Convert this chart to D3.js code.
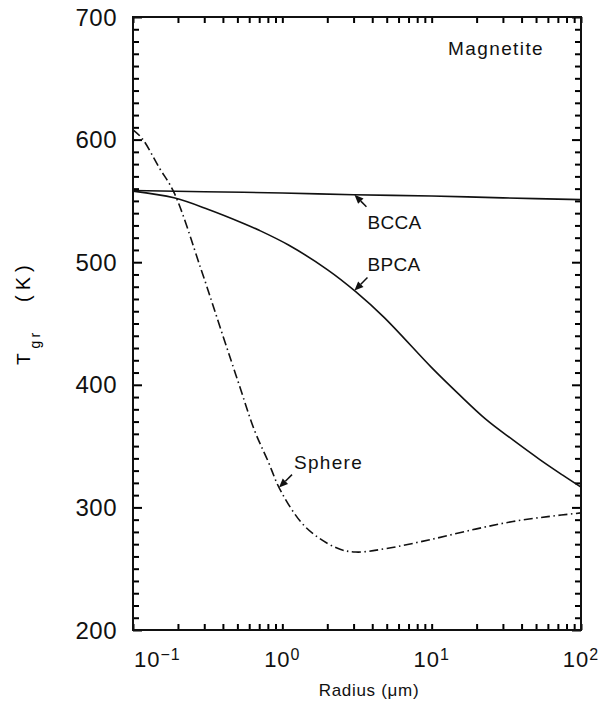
<!DOCTYPE html>
<html>
<head>
<meta charset="utf-8">
<script src="https://cdn.jsdelivr.net/npm/d3@7"></script>
<style>
  body { margin: 0; background: #fff; }
  svg text { font-family: "Liberation Sans", Arial, sans-serif; fill: #111; }
</style>
</head>
<body>
<svg id="chart" width="610" height="702"></svg>
<script>
// values: [radius (um), T_gr (K)]
var bccaData = [[0.1, 558.5], [0.3, 557.5], [1, 556.5], [3, 555], [10, 554], [30, 552.5], [100, 551]];
var bpcaData = [[0.1, 558], [0.188, 552.5], [0.32, 543], [0.54, 532], [0.7, 526], [1.1, 514], [2, 494],
                [3.1, 476], [4.8, 455], [10, 414], [15, 393], [23, 372], [35, 355], [53, 339],
                [75, 326.5], [100, 316.5]];
var sphereData = [[0.1, 608], [0.115, 601], [0.15, 577], [0.188, 557], [0.286, 494], [0.4, 440], [0.514, 400],
                  [0.65, 363], [0.8, 338], [0.98, 313], [1.43, 284], [2.3, 267], [3.1, 263.6], [5, 266.5],
                  [10, 274], [20, 282.5], [35, 288.5], [60, 292.5], [100, 295.5]];

var xDecades = [0.1, 1, 10, 100];
var xExponents = ["\u22121", "0", "1", "2"];
var yLabels = [200, 300, 400, 500, 600, 700];

// annotation: label, which curve, radius where the arrow touches
var notes = [
    { label: "BCCA", series: "bcca", r: 3.04, tail: [12, 12], text: [13, 34] },
    { label: "BPCA", series: "bpca", r: 3.04, tail: [13, -13], text: [13, -20] },
    { label: "Sphere", series: "sphere", r: 0.95, tail: [13, -13], text: [15, -19] }
];

var mLeft = 133, mRight = 581, mTop = 17, mBottom = 630;
var svg = d3.select("#chart");
var g = svg.append("g");

var x = d3.scaleLog().domain([0.1, 100]).range([mLeft, mRight]);
var y = d3.scaleLinear().domain([200, 700]).range([mBottom, mTop]);

// ticks on all four sides, pointing inward
var yTicks = d3.range(200, 701, 10);
function ySize(d) { return d % 100 == 0 ? 9 : 6; }

g.append("g").attr("transform", "translate(0," + mBottom + ")")
    .call(d3.axisBottom(x).tickValues(x.ticks()).tickSize(-6).tickFormat(""));
g.append("g").attr("transform", "translate(0," + mTop + ")")
    .call(d3.axisTop(x).tickValues(x.ticks()).tickSize(-6).tickFormat(""));

var yl = g.append("g").attr("transform", "translate(" + mLeft + ",0)")
    .call(d3.axisLeft(y).tickValues(yTicks).tickFormat(""));
yl.selectAll(".tick line").attr("x2", function (d) { return ySize(d); });
var yr = g.append("g").attr("transform", "translate(" + mRight + ",0)")
    .call(d3.axisRight(y).tickValues(yTicks).tickFormat(""));
yr.selectAll(".tick line").attr("x2", function (d) { return -ySize(d); });

g.selectAll(".domain").remove();
g.selectAll(".tick line").attr("stroke", "#000").attr("stroke-width", 2);

// frame
g.append("rect")
    .attr("x", mLeft).attr("y", mTop)
    .attr("width", mRight - mLeft).attr("height", mBottom - mTop)
    .attr("fill", "none").attr("stroke", "#111").attr("stroke-width", 2);

// y tick labels
g.selectAll(".ylab")
    .data(yLabels)
    .enter().append("text")
    .attr("x", mLeft - 16)
    .attr("y", function (d) { return y(d); })
    .attr("dy", "0.36em")
    .attr("text-anchor", "end")
    .style("font-size", "24px")
    .style("letter-spacing", "0.5px")
    .text(function (d) { return d; });

// x tick labels, 10 with exponent
var xl = g.selectAll(".xlab")
    .data(xDecades)
    .enter().append("text")
    .attr("x", function (d, i) { return i == 0 ? x(d) + 1 : x(d); })
    .attr("y", 667)
    .attr("text-anchor", function (d, i) { return i == 0 ? "start" : "middle"; })
    .style("font-size", "22px")
    .style("letter-spacing", "1px");
xl.append("tspan").text("10");
xl.append("tspan")
    .attr("dy", "-0.45em")
    .style("font-size", "16px")
    .text(function (d, i) { return xExponents[i]; });

// axis titles
g.append("text")
    .attr("x", 369).attr("y", 696)
    .attr("text-anchor", "middle")
    .style("font-size", "17px")
    .style("letter-spacing", "0.7px")
    .text("Radius (\u03bcm)");

var yt = g.append("text")
    .attr("transform", "translate(30,365) rotate(-90)")
    .attr("text-anchor", "start")
    .style("font-size", "19px")
    .style("fill", "#000");
yt.append("tspan").text("T");
yt.append("tspan").attr("dx", 5).attr("dy", 10)
    .style("font-size", "14px").style("letter-spacing", "3px").text("gr");
yt.append("tspan").attr("dx", 28).attr("dy", -10)
    .style("font-size", "20px").style("letter-spacing", "5px").text("(K)");

g.append("text")
    .attr("x", 448).attr("y", 55)
    .style("font-size", "19px")
    .style("letter-spacing", "1.4px")
    .text("Magnetite");

// curves
var line = d3.line()
    .x(function (d) { return x(d[0]); })
    .y(function (d) { return y(d[1]); })
    .curve(d3.curveCatmullRom.alpha(0.5));

var paths = {};
paths.bcca = g.append("path").datum(bccaData)
    .attr("d", line).attr("fill", "none").attr("stroke", "#111").attr("stroke-width", 1.6);
paths.bpca = g.append("path").datum(bpcaData)
    .attr("d", line).attr("fill", "none").attr("stroke", "#111").attr("stroke-width", 1.6);
paths.sphere = g.append("path").datum(sphereData)
    .attr("d", line).attr("fill", "none").attr("stroke", "#111").attr("stroke-width", 1.6)
    .attr("stroke-dasharray", "9,3.5,1.5,3.5");

// find the point on a path at a given x
function pointAtX(node, px) {
    var lo = 0, hi = node.getTotalLength(), p;
    for (var k = 0; k < 40; k++) {
        var mid = (lo + hi) / 2;
        p = node.getPointAtLength(mid);
        if (p.x < px) lo = mid; else hi = mid;
    }
    return p;
}

notes.forEach(function (n) {
    var tip = pointAtX(paths[n.series].node(), x(n.r));
    var tx = tip.x + n.tail[0], ty = tip.y + n.tail[1];
    var ang = Math.atan2(ty - tip.y, tx - tip.x);
    var hl = 9, hw = 3.8;
    var bx = tip.x + hl * Math.cos(ang), by = tip.y + hl * Math.sin(ang);
    g.append("line")
        .attr("x1", tx).attr("y1", ty).attr("x2", bx).attr("y2", by)
        .attr("stroke", "#111").attr("stroke-width", 1.5);
    g.append("path")
        .attr("d", "M" + tip.x + "," + tip.y +
            "L" + (bx - hw * Math.sin(ang)) + "," + (by + hw * Math.cos(ang)) +
            "L" + (bx + hw * Math.sin(ang)) + "," + (by - hw * Math.cos(ang)) + "Z")
        .attr("fill", "#111");
    g.append("text")
        .attr("x", tip.x + n.text[0]).attr("y", tip.y + n.text[1])
        .style("font-size", "19px")
        .style("letter-spacing", n.label == "Sphere" ? "1.3px" : "0.3px")
        .text(n.label);
});
</script>
</body>
</html>
